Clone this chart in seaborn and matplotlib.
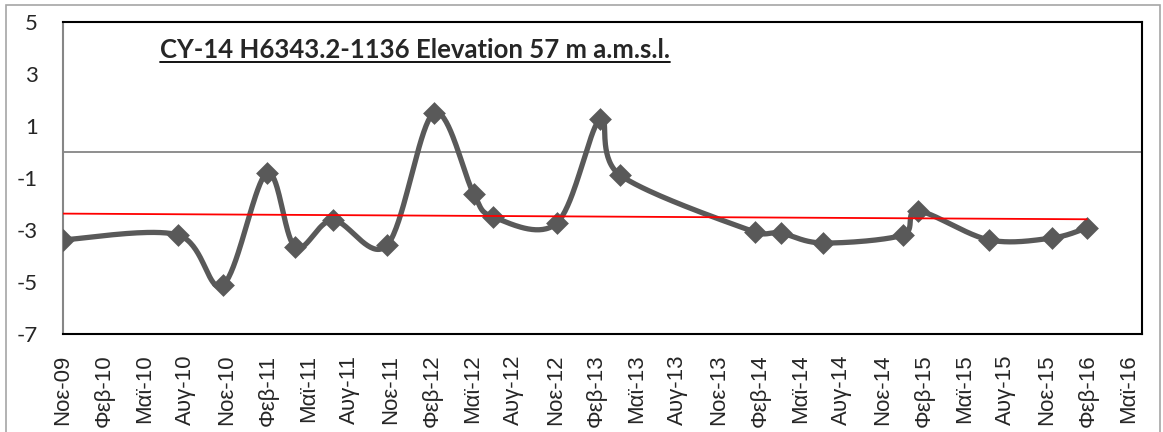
import numpy as np
import pandas as pd
import matplotlib
matplotlib.use('Agg')
import matplotlib.pyplot as plt
import matplotlib.dates as mdates
import matplotlib.ticker as mticker
import seaborn as sns
from matplotlib.patches import Rectangle
from matplotlib.lines import Line2D

# measurement dates and water level (m a.m.s.l.)
dates = ['2009-11-01', '2010-07-15', '2010-10-23', '2011-01-29', '2011-04-02',
         '2011-06-25', '2011-10-24', '2012-02-05', '2012-05-04', '2012-06-16',
         '2012-11-05', '2013-02-09', '2013-03-25', '2014-01-20', '2014-03-19',
         '2014-06-21', '2014-12-16', '2015-01-18', '2015-06-25', '2015-11-12',
         '2016-01-29']
levels = [-3.38, -3.19, -5.12, -0.81, -3.65,
          -2.62, -3.58, 1.50, -1.62, -2.50,
          -2.73, 1.27, -0.88, -3.08, -3.12,
          -3.50, -3.19, -2.27, -3.38, -3.31,
          -2.92]
title = 'CY-14 H6343.2-1136 Elevation 57 m a.m.s.l.'
month_names = {2: 'Φεβ', 5: 'Μαϊ', 8: 'Αυγ', 11: 'Νοε'}
y_ticks = [-7, -5, -3, -1, 1, 3, 5]
x_start, x_end = '2009-11-01', '2016-05-31'

sns.set_style('white')
plt.rcParams['font.family'] = ['Liberation Sans', 'DejaVu Sans']
plt.rcParams['axes.unicode_minus'] = False

df = pd.DataFrame({'date': pd.to_datetime(dates), 'level': levels})
df['x'] = mdates.date2num(df['date'])

W, H = 1163, 432
fig = plt.figure(figsize=(W / 100, H / 100), dpi=100)
ax = fig.add_axes([63 / W, 1 - 334 / H, (1142 - 63) / W, (334 - 22) / H])
ax.set_xlim(mdates.date2num(pd.Timestamp(x_start)), mdates.date2num(pd.Timestamp(x_end)))
ax.set_ylim(-7, 5)


def smooth_line(ax, xs, ys, n=40):
    # catmull-rom style bezier in screen space, like a spreadsheet "smoothed line"
    pts = ax.transData.transform(np.column_stack([xs, ys]))
    out = [pts[:1]]
    m = len(pts)
    for i in range(m - 1):
        p0, p1 = pts[i], pts[i + 1]
        d = np.linalg.norm(p1 - p0)
        prev = pts[i - 1] if i > 0 else p0
        nxt = pts[i + 2] if i + 2 < m else p1
        v0 = (p1 - prev) / 6
        v1 = (nxt - p0) / 6
        # keep control arms from looping on short segments
        for v in (v0, v1):
            L = np.linalg.norm(v)
            if L > d / 2:
                v *= (d / 2) / L
        c0 = p0 + v0
        c1 = p1 - v1
        t = np.linspace(0, 1, n)[1:, None]
        seg = (1 - t) ** 3 * p0 + 3 * (1 - t) ** 2 * t * c0 + 3 * (1 - t) * t ** 2 * c1 + t ** 3 * p1
        out.append(seg)
    return ax.transData.inverted().transform(np.vstack(out)).T


ax.axhline(0, color='#868686', lw=1.3, zorder=1)
sx, sy = smooth_line(ax, df['x'].values, df['level'].values)
ax.plot(sx, sy, color='#595959', lw=3.8, solid_capstyle='round', zorder=2)
sns.scatterplot(data=df, x='x', y='level', marker='D', s=135, color='#595959',
                edgecolor='#595959', linewidth=0, zorder=3, ax=ax)
sns.regplot(data=df, x='x', y='level', scatter=False, ci=None, truncate=True,
            color='red', line_kws={'lw': 1.3, 'zorder': 4}, ax=ax)
ax.set_xlim(mdates.date2num(pd.Timestamp(x_start)), mdates.date2num(pd.Timestamp(x_end)))
ax.set_ylim(-7, 5)

ax.xaxis.set_major_locator(mdates.MonthLocator(bymonth=[2, 5, 8, 11]))
ax.xaxis.set_major_formatter(mticker.FuncFormatter(
    lambda v, pos: f"{month_names[mdates.num2date(v).month]}-{mdates.num2date(v):%y}"))
ax.set_yticks(y_ticks)
ax.set_xlabel('')
ax.set_ylabel('')
ax.tick_params(axis='x', length=0, pad=15, labelsize=16, rotation=90)
ax.tick_params(axis='y', length=0, pad=18, labelsize=16)
for lab in ax.get_yticklabels():
    lab.set_family(['Lato', 'DejaVu Sans'])
for lab in ax.get_xticklabels():
    lab.set_family(['Liberation Sans', 'DejaVu Sans'])

for side in ['top', 'right', 'bottom']:
    ax.spines[side].set_color('black')
    ax.spines[side].set_linewidth(1.5)
ax.spines['left'].set_color('#868686')
ax.spines['left'].set_linewidth(1.5)

txt = ax.text(0.09, 0.885, title, transform=ax.transAxes, fontsize=18.5,
              fontweight='bold', family=['Lato', 'DejaVu Sans'], va='baseline')

fig.patches.append(Rectangle((6 / W, -0.01), (1160 - 6) / W, 1.01 - 5 / H,
                             transform=fig.transFigure, fill=False,
                             edgecolor='#A6A6A6', lw=1.2))

fig.canvas.draw()
bb = txt.get_window_extent()
uy = (H - 62) / H
fig.add_artist(Line2D([bb.x0 / W, bb.x1 / W], [uy, uy], transform=fig.transFigure,
                      color='black', lw=1.3))

fig.savefig('out.png', dpi=100)
